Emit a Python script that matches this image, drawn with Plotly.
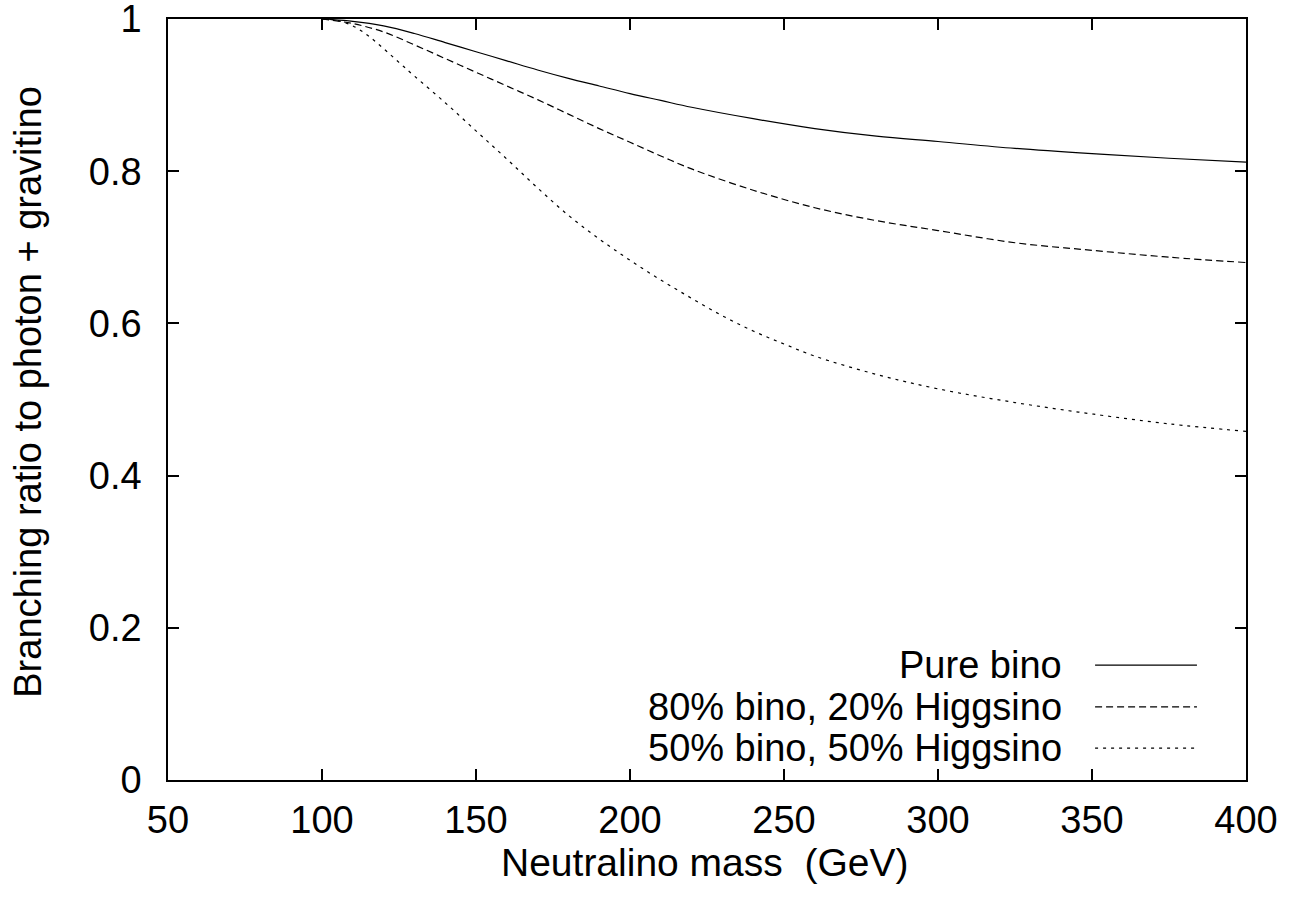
import plotly.graph_objects as go

# Neutralino mass (GeV) and branching ratios
mass_bino = [100, 110, 120, 130, 140, 150, 160, 170, 180, 190, 200, 210, 220, 240, 260, 280, 300, 325, 350, 375, 400]
br_bino = [1.000, 0.997, 0.991, 0.981, 0.969, 0.957, 0.945, 0.933, 0.922, 0.912, 0.902, 0.893, 0.884, 0.869, 0.856, 0.846, 0.839, 0.830, 0.823, 0.817, 0.812]

mass_80 = [100, 110, 120, 130, 140, 150, 160, 170, 180, 190, 200, 210, 220, 240, 260, 280, 300, 325, 350, 375, 400]
br_80 = [1.000, 0.994, 0.983, 0.966, 0.948, 0.930, 0.912, 0.894, 0.875, 0.856, 0.838, 0.820, 0.803, 0.775, 0.752, 0.735, 0.722, 0.706, 0.696, 0.687, 0.680]

mass_50 = [100, 105, 110, 115, 120, 125, 130, 140, 150, 160, 170, 180, 190, 200, 210, 220, 230, 240, 250, 260, 280, 300, 325, 350, 375, 400]
br_50 = [1.000, 0.998, 0.991, 0.978, 0.961, 0.943, 0.925, 0.890, 0.853, 0.816, 0.778, 0.742, 0.711, 0.683, 0.657, 0.633, 0.610, 0.590, 0.573, 0.557, 0.533, 0.514, 0.496, 0.481, 0.468, 0.458]

series_names = ["Pure bino", "80% bino, 20% Higgsino", "50% bino, 50% Higgsino"]
series_dash = ["solid", "7px,4px", "3px,5px"]

x_ticks = [50, 100, 150, 200, 250, 300, 350, 400]
y_ticks = [0, 0.2, 0.4, 0.6, 0.8, 1]
y_tick_text = ["0", "0.2", "0.4", "0.6", "0.8", "1"]

x_title = "Neutralino mass  (GeV)"
y_title = "Branching ratio to photon + gravitino"

FONT = "Liberation Sans, Arial, sans-serif"
FS = 38

fig = go.Figure()
data = [(mass_bino, br_bino), (mass_80, br_80), (mass_50, br_50)]
for (xs, ys), name, dash in zip(data, series_names, series_dash):
    fig.add_trace(go.Scatter(x=xs, y=ys, mode="lines", name=name,
                             line=dict(color="black", width=1.2, dash=dash, shape="spline", smoothing=1.0),
                             showlegend=False))

# custom legend (text right-aligned, sample line on the right, gnuplot style)
leg_y = [0.151, 0.096, 0.042]
for name, dash, yy in zip(series_names, series_dash, leg_y):
    fig.add_annotation(x=0.831, y=yy, xref="paper", yref="paper", text=name, showarrow=False,
                       xanchor="right", yanchor="middle", font=dict(family=FONT, size=FS, color="black"))
    fig.add_shape(type="line", xref="paper", yref="paper", x0=0.86, x1=0.9545, y0=yy, y1=yy,
                  line=dict(color="black", width=1.2, dash=dash))

# axis titles
fig.add_annotation(x=0.498, y=-0.109, xref="paper", yref="paper", text=x_title, showarrow=False,
                   xanchor="center", yanchor="middle", font=dict(family=FONT, size=39, color="black"))
fig.add_annotation(x=-0.13, y=0.51, xref="paper", yref="paper", text=y_title, showarrow=False, textangle=-90,
                   xanchor="center", yanchor="middle", font=dict(family=FONT, size=FS, color="black"))

axis_common = dict(showline=True, linecolor="black", linewidth=1.5, mirror="ticks", ticks="inside",
                   ticklen=11, tickwidth=1.5, tickcolor="black", showgrid=False, zeroline=False,
                   automargin=False, ticklabeloverflow="allow",
                   tickfont=dict(family=FONT, size=FS, color="black"))

fig.update_layout(
    width=1298, height=904,
    margin=dict(l=168, r=52, t=19, b=124),
    paper_bgcolor="white", plot_bgcolor="white",
    xaxis=dict(range=[50, 400], tickvals=x_ticks, ticklabelstandoff=6, **axis_common),
    yaxis=dict(range=[0, 1], tickvals=y_ticks, ticktext=y_tick_text, ticklabelstandoff=17, **axis_common),
)

# remove the default page margin so the figure fills the window exactly
fig.write_html("out.html", config={"displayModeBar": False},
               post_script="document.body.style.margin='0';document.body.style.overflow='hidden';")
